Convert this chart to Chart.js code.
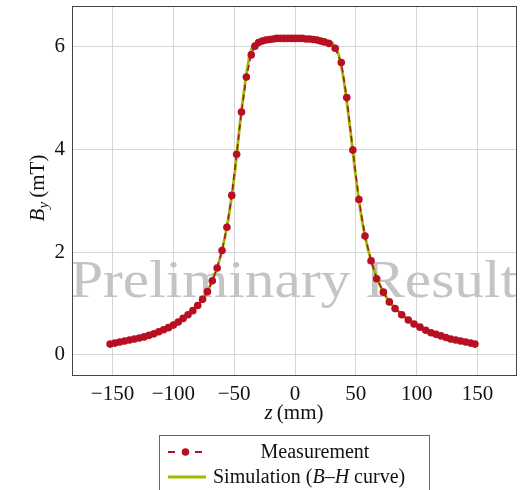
<!DOCTYPE html>
<html>
<head>
<meta charset="utf-8">
<script src="https://cdn.jsdelivr.net/npm/chart.js@4.4.1/dist/chart.umd.min.js"></script>
<style>
  html, body { margin: 0; padding: 0; background: #fff; }
  #wrap { width: 532px; height: 490px; position: relative; }
</style>
</head>
<body>
<div id="wrap"><canvas id="chart"></canvas></div>
<script>
// measured field along the axis (z in mm, B_y in mT)
const zMeas = [-152, -148, -144, -140, -136, -132, -128, -124, -120, -116, -112, -108, -104, -100,
  -96, -92, -88, -84, -80, -76, -72, -68, -64, -60, -56, -52, -48, -44, -40, -36,
  -33, -30, -27, -24, -21, -18, -15, -12, -9, -6, -3, 0, 3, 6, 9, 12, 15, 18, 21, 24, 28,
  33, 38, 42.5, 47.5, 52.5, 57.5, 62.5, 67.1, 72.6, 77.5, 82.2, 87.7, 93.1, 97.8, 102.7,
  107.4, 111.8, 115.9, 120, 124.1, 127.9, 132, 136.1, 140.2, 144.3, 147.9];
const bMeas = [0.21, 0.23, 0.25, 0.27, 0.29, 0.31, 0.33, 0.35, 0.38, 0.41, 0.45, 0.49, 0.53, 0.58,
  0.64, 0.71, 0.78, 0.86, 0.96, 1.08, 1.23, 1.44, 1.69, 2.03, 2.48, 3.10, 3.90, 4.72, 5.40, 5.83,
  6.00, 6.07, 6.10, 6.12, 6.13, 6.14, 6.15, 6.15, 6.15, 6.15, 6.15, 6.15, 6.15, 6.15, 6.14, 6.14, 6.13, 6.12, 6.10, 6.08, 6.05,
  5.96, 5.68, 5.00, 3.98, 3.02, 2.31, 1.83, 1.48, 1.22, 1.03, 0.90, 0.78, 0.68, 0.60, 0.54,
  0.48, 0.43, 0.40, 0.37, 0.34, 0.31, 0.29, 0.27, 0.25, 0.23, 0.21];

// simulation with B-H curve
const zSim = [-150, -140, -130, -120, -110, -100, -90, -80, -75, -70, -65, -60, -55, -50, -45, -40,
  -37, -34, -30, -20, -10, 0, 10, 20, 28, 32, 36, 40, 45, 50, 55, 60, 65, 70, 75, 80, 90, 100,
  110, 120, 130, 140, 150];
const bSim = [0.22, 0.27, 0.32, 0.38, 0.47, 0.58, 0.74, 0.97, 1.10, 1.33, 1.63, 2.03, 2.62, 3.45, 4.55, 5.45,
  5.85, 6.02, 6.10, 6.14, 6.15, 6.15, 6.15, 6.14, 6.10, 6.02, 5.82, 5.35, 4.45, 3.45, 2.62, 2.05, 1.65, 1.35, 1.12, 0.97, 0.74, 0.58,
  0.47, 0.38, 0.32, 0.27, 0.22];

const xTicks = [-150, -100, -50, 0, 50, 100, 150];
const yTicks = [0, 2, 4, 6];

const RED = "#B90F22";
const GREEN = "#99C000";
const SERIF = "'Liberation Serif', 'DejaVu Serif', serif";

const toPoints = (xs, ys) => xs.map((x, i) => ({ x, y: ys[i] }));
const fmt = (v) => (v < 0 ? "\u2212" + Math.abs(v) : String(v));

// draw a list of [text, italic, size, dy] runs, returns end x
function drawRuns(ctx, runs, x, y) {
  runs.forEach(([txt, italic, size, dy]) => {
    ctx.font = (italic ? "italic " : "") + size + "px " + SERIF;
    ctx.fillText(txt, x, y + (dy || 0));
    x += ctx.measureText(txt).width;
  });
  return x;
}
function runsWidth(ctx, runs) {
  let w = 0;
  runs.forEach(([txt, italic, size]) => {
    ctx.font = (italic ? "italic " : "") + size + "px " + SERIF;
    w += ctx.measureText(txt).width;
  });
  return w;
}

const watermark = {
  id: "watermark",
  beforeDatasetsDraw(chart) {
    const { ctx } = chart;
    ctx.save();
    ctx.font = "53px " + SERIF;
    ctx.fillStyle = "#c4c4c4";
    ctx.textBaseline = "alphabetic";
    const txt = "Preliminary Result";
    const w = ctx.measureText(txt).width;
    const target = 447;
    ctx.translate(70, 297);
    ctx.scale(target / w, 1);
    ctx.fillText(txt, 0, 0);
    ctx.restore();
  },
};

const decorations = {
  id: "decorations",
  afterDraw(chart) {
    const { ctx, chartArea: a } = chart;
    ctx.save();
    // frame
    ctx.strokeStyle = "#444";
    ctx.lineWidth = 1;
    ctx.strokeRect(Math.round(a.left) + 0.5, Math.round(a.top) + 0.5,
      Math.round(a.right - a.left), Math.round(a.bottom - a.top));

    ctx.fillStyle = "#111";
    ctx.textBaseline = "alphabetic";
    ctx.textAlign = "left";

    // x title: z (mm)
    const xr = [["z", true, 21], ["\u2009(mm)", false, 21]];
    drawRuns(ctx, xr, (a.left + a.right) / 2 - runsWidth(ctx, xr) / 2, 419);

    // y title: B_y (mT)
    const yr = [["B", true, 21], ["y", true, 15, 4], ["\u2009(mT)", false, 21]];
    ctx.save();
    ctx.translate(44, 188);
    ctx.rotate(-Math.PI / 2);
    drawRuns(ctx, yr, -runsWidth(ctx, yr) / 2, 0);
    ctx.restore();

    // legend box
    ctx.strokeStyle = "#666";
    ctx.strokeRect(159.5, 435.5, 270, 80);
    // measurement sample
    ctx.strokeStyle = RED;
    ctx.lineWidth = 2;
    ctx.beginPath();
    ctx.moveTo(168, 452); ctx.lineTo(175, 452);
    ctx.moveTo(195, 452); ctx.lineTo(202, 452);
    ctx.stroke();
    ctx.fillStyle = RED;
    ctx.beginPath();
    ctx.arc(185.5, 452, 3.8, 0, Math.PI * 2);
    ctx.fill();
    // simulation sample
    ctx.strokeStyle = GREEN;
    ctx.lineWidth = 2.8;
    ctx.beginPath();
    ctx.moveTo(168, 477); ctx.lineTo(206, 477);
    ctx.stroke();

    ctx.fillStyle = "#111";
    const m = [["Measurement", false, 20]];
    drawRuns(ctx, m, 315 - runsWidth(ctx, m) / 2, 458);
    const s = [["Simulation (", false, 20], ["B", true, 20], ["\u2013", false, 20], ["H", true, 20], [" curve)", false, 20]];
    drawRuns(ctx, s, 213, 483);
    ctx.restore();
  },
};

// drop the label overhang padding so the plot box sits where it should
const noOverhang = (scale) => {
  scale.paddingTop = 0;
  scale.paddingBottom = 0;
  scale.paddingLeft = 0;
  scale.paddingRight = 0;
};

new Chart(document.getElementById("chart"), {
  type: "scatter",
  data: {
    datasets: [
      {
        label: "Measurement",
        data: toPoints(zMeas, bMeas),
        showLine: true,
        borderColor: RED,
        borderWidth: 1.6,
        borderDash: [6, 4],
        pointRadius: 3.8,
        pointBackgroundColor: RED,
        pointBorderWidth: 0,
        tension: 0,
        order: 0,
      },
      {
        label: "Simulation (B–H curve)",
        data: toPoints(zSim, bSim),
        showLine: true,
        borderColor: GREEN,
        borderWidth: 2.8,
        pointRadius: 0,
        cubicInterpolationMode: "monotone",
        order: 1,
      },
    ],
  },
  options: {
    responsive: true,
    maintainAspectRatio: false,
    animation: false,
    layout: { padding: { top: 6, right: 16, left: 0, bottom: 0 } },
    plugins: { legend: { display: false }, tooltip: { enabled: false } },
    scales: {
      x: {
        type: "linear",
        min: -183.3,
        max: 181.6,
        afterBuildTicks: (scale) => { scale.ticks = xTicks.map((v) => ({ value: v })); },
        afterFit: (scale) => { scale.height = 115; noOverhang(scale); },
        ticks: { color: "#111", font: { family: SERIF, size: 21 }, padding: 7, callback: fmt, maxRotation: 0 },
        grid: { color: "#d6d6d6", lineWidth: 1, drawTicks: false },
        border: { display: false },
      },
      y: {
        type: "linear",
        min: -0.39,
        max: 6.78,
        afterBuildTicks: (scale) => { scale.ticks = yTicks.map((v) => ({ value: v })); },
        afterFit: (scale) => { scale.width = 72; noOverhang(scale); },
        ticks: { color: "#111", font: { family: SERIF, size: 21 }, padding: 7, callback: fmt },
        grid: { color: "#d6d6d6", lineWidth: 1, drawTicks: false },
        border: { display: false },
      },
    },
  },
  plugins: [watermark, decorations],
});
</script>
</body>
</html>
